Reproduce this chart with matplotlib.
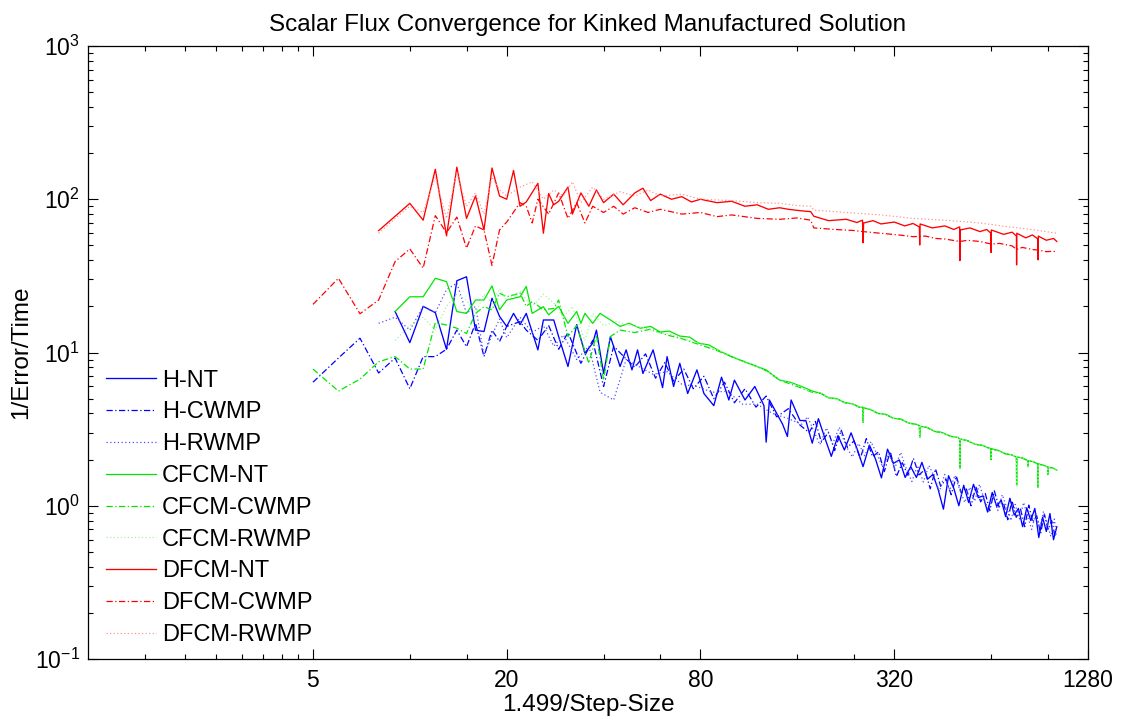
import matplotlib
matplotlib.use("Agg")
import matplotlib.pyplot as plt
from matplotlib.ticker import FixedLocator, NullFormatter

plt.rcParams['font.family'] = ['Liberation Sans', 'DejaVu Sans']
plt.rcParams['mathtext.fontset'] = 'custom'
plt.rcParams['mathtext.rm'] = 'Liberation Sans'

# ---------------- data ----------------
# tails of the H family (the three variants overlap in one dense noisy band)
h_tail_x = [170, 178, 186, 195, 204, 214, 224, 235, 246, 256, 268, 280, 292, 305, 318, 332, 346, 360, 375, 390,
            406, 422, 438, 455, 472, 490, 508, 526, 545, 564, 584, 604, 624, 645, 666, 688, 710, 732, 755, 778,
            802, 826, 850, 875, 900, 925, 950, 975, 1000, 1024]
h_tail_y = [3.60, 2.56, 3.70, 2.75, 2.10, 2.87, 2.31, 2.99, 2.31, 1.80, 2.49, 2.01, 1.52, 2.34, 1.89, 1.99, 1.53, 1.80, 1.53, 1.92,
            1.49, 1.60, 1.28, 0.95, 1.57, 1.30, 1.00, 1.36, 1.05, 1.38, 1.13, 1.16, 0.91, 1.22, 0.99, 1.09, 0.85, 1.12, 0.87, 0.96,
            0.73, 0.97, 0.80, 0.96, 0.62, 0.84, 0.68, 0.89, 0.60, 0.73]
h_tail2_x = [174, 182, 190, 200, 209, 219, 229, 240, 251, 262, 274, 286, 298, 311, 325, 339, 353, 367, 382, 398,
             414, 430, 446, 463, 481, 499, 517, 535, 554, 574, 594, 614, 634, 655, 677, 699, 721, 743, 766, 790,
             814, 838, 862, 887, 912, 937, 962, 987, 1012]
h_tail2_y = [3.00, 3.55, 2.60, 3.02, 2.29, 3.11, 2.40, 2.65, 2.03, 2.74, 2.09, 2.25, 1.67, 2.26, 1.55, 1.91, 1.58, 2.04, 1.59, 1.72,
             1.29, 1.74, 1.34, 1.49, 1.18, 1.56, 1.21, 1.31, 1.00, 1.33, 1.06, 1.20, 0.93, 1.25, 0.98, 1.05, 0.81, 1.08, 0.84, 0.95,
             0.73, 1.01, 0.78, 0.86, 0.66, 0.88, 0.70, 0.80, 0.63]
h_tail3_x = [172, 180, 188, 197, 206, 216, 226, 237, 248, 259, 271, 283, 295, 308, 321, 335, 349, 363, 378, 394,
             410, 426, 442, 459, 476, 494, 512, 530, 549, 569, 589, 609, 629, 650, 671, 693, 715, 737, 760, 784,
             808, 832, 856, 881, 906, 931, 956, 981, 1006, 1020]
h_tail3_y = [3.81, 3.07, 2.50, 3.22, 2.54, 3.25, 2.48, 2.08, 2.55, 2.12, 2.62, 2.16, 1.78, 2.19, 1.75, 2.23, 1.74, 1.44, 1.83, 1.43,
             1.83, 1.55, 1.24, 1.60, 1.26, 1.58, 1.26, 1.05, 1.32, 1.07, 1.38, 1.10, 0.92, 1.18, 0.93, 1.18, 0.98, 0.80, 1.02, 0.82,
             1.05, 0.84, 0.70, 0.90, 0.72, 0.92, 0.76, 0.63, 0.82, 0.64]
# tail of the CFCM family (the three variants overlap)
g_tail_x = [190, 200, 212, 225, 238, 250, 255, 256, 257, 270, 285, 300, 318, 336, 355, 375, 383, 384, 385, 405,
            428, 452, 478, 505, 511, 512, 513, 540, 570, 600, 639, 640, 641, 675, 710, 740, 767, 768, 769, 800,
            831, 832, 833, 865, 895, 896, 897, 930, 959, 960, 961, 990, 1024]
g_tail_y = [5.40, 5.05, 5.00, 4.70, 4.62, 4.38, 4.40, 3.50, 4.35, 4.25, 4.00, 3.96, 3.72, 3.67, 3.46, 3.40, 3.33, 2.80, 3.30, 3.24,
            3.05, 3.00, 2.84, 2.79, 2.72, 1.76, 2.72, 2.66, 2.52, 2.48, 2.35, 2.00, 2.35, 2.29, 2.18, 2.15, 2.08, 1.36, 2.08, 2.05,
            1.97, 1.80, 1.97, 1.94, 1.87, 1.32, 1.87, 1.84, 1.79, 1.60, 1.78, 1.77, 1.71]

hnt_x = [9, 10, 11, 12, 13, 14, 15, 16, 17, 18, 19, 20, 21, 22, 23, 25, 26, 28, 29, 31, 33, 35, 37, 38, 40,
         42, 45, 47, 49, 51, 53, 57, 61, 63, 66, 69, 73, 78, 82, 88, 93, 98, 102, 110, 118, 126, 128, 131, 144,
         149, 153, 163]
hnt_y = [18.5, 11.6, 20.0, 18.2, 10.5, 29.4, 31.2, 14.0, 13.7, 22.6, 17.2, 14.8, 18.0, 15.2, 18.0, 10.4, 16.3,
         16.3, 12.7, 8.1, 15.2, 9.9, 11.5, 14.0, 7.3, 12.7, 8.1, 10.4, 7.7, 10.4, 7.3, 10.4, 5.9, 9.4, 6.0, 8.5,
         5.4, 7.7, 5.4, 4.5, 6.9, 4.9, 6.6, 4.9, 6.0, 4.5, 2.6, 4.9, 3.4, 2.83, 4.9, 3.6]
hcw_x = [5, 6, 7, 8, 9, 10, 11, 12, 13, 14, 15, 16, 17, 18, 19, 20, 22, 23, 25, 27, 29, 31, 34, 37, 40, 43,
         46, 50, 54, 58, 62, 66, 71, 76, 82, 88, 95, 102, 110, 119, 128, 138, 150, 162]
hcw_y = [6.4, 9.2, 12.4, 7.35, 9.2, 5.8, 9.4, 9.4, 10.5, 14.0, 10.9, 15.5, 9.4, 14.0, 11.8, 14.8, 15.9, 14.0,
         12.0, 15.0, 10.5, 13.5, 8.5, 12.0, 6.0, 11.0, 9.5, 8.0, 9.8, 6.8, 8.6, 6.5, 7.8, 5.8, 7.0, 5.0, 6.4, 4.7,
         5.8, 4.4, 5.2, 3.8, 4.3, 3.4]
hrw_x = [8, 9, 10, 11, 12, 13, 14, 15, 16, 17, 18, 19, 20, 22, 24, 26, 28, 30, 33, 36, 39, 43, 47, 52, 57, 63,
         70, 78, 87, 97, 108, 120, 134, 150, 165]
hrw_y = [15.5, 17.0, 14.0, 20.0, 18.2, 25.7, 28.4, 18.0, 20.0, 9.6, 13.0, 16.5, 12.5, 17.0, 13.5, 15.0, 11.0,
         13.0, 9.0, 11.0, 5.5, 4.9, 9.0, 8.0, 7.2, 7.5, 6.2, 6.0, 5.5, 5.6, 4.6, 4.6, 4.0, 3.7, 3.4]

cnt_x = [9, 10, 11, 12, 13, 14, 15, 16, 17, 18, 19, 20, 22, 23, 24, 26, 27, 29, 31, 33, 34, 35, 37, 39, 42, 45,
         48, 52, 56, 60, 64, 69, 74, 79, 85, 92, 100, 108, 118, 128, 141, 152, 165, 178]
cnt_y = [18.5, 23.1, 23.1, 30.5, 29.0, 18.5, 18.0, 22.0, 22.0, 27.2, 19.0, 22.0, 23.1, 27.0, 18.0, 19.9, 17.6,
         20.0, 15.5, 18.5, 15.5, 18.0, 15.5, 18.0, 16.3, 14.8, 15.5, 14.4, 14.8, 13.6, 13.8, 12.8, 12.6, 11.5, 11.2,
         10.2, 9.4, 8.8, 8.2, 7.7, 6.6, 6.4, 6.0, 5.6]
ccw_x = [5, 6, 7, 8, 9, 10, 11, 12, 13, 14, 15, 16, 17, 18, 19, 20, 22, 23, 24, 26, 28, 29, 31, 33, 36, 38, 40,
         42, 45, 50, 56, 63, 70, 79, 90, 101, 115, 128, 141, 160, 178]
ccw_y = [7.8, 5.6, 6.7, 8.7, 9.4, 7.8, 7.8, 15.7, 15.1, 14.4, 13.3, 18.0, 19.9, 19.0, 24.4, 23.1, 24.4, 20.0,
         21.5, 19.0, 19.4, 22.0, 12.7, 15.0, 8.5, 13.0, 6.6, 12.7, 14.0, 13.5, 14.2, 13.0, 12.3, 11.3, 10.3, 9.3,
         8.4, 7.6, 6.6, 6.0, 5.5]
crw_x = [9, 10, 11, 12, 13, 14, 15, 16, 17, 18, 19, 20, 22, 24, 26, 28, 30, 32, 35, 37, 40, 44, 48, 53, 58, 64,
         72, 80, 90, 100, 112, 126, 141, 160, 178]
crw_y = [12.0, 15.0, 17.0, 14.0, 20.0, 24.0, 22.0, 18.0, 24.0, 21.0, 26.0, 22.0, 25.0, 20.0, 24.0, 21.0, 17.0,
         20.0, 12.0, 18.0, 15.0, 16.0, 15.0, 14.6, 13.6, 13.2, 12.2, 11.4, 10.4, 9.5, 8.6, 7.7, 6.7, 6.1, 5.5]

dnt_x = [8, 10, 11, 12, 13, 14, 15, 16, 17, 18, 19, 20, 21, 22, 23, 25, 26, 27, 28, 29, 31, 32, 34, 36, 38, 40,
         43, 46, 50, 53, 56, 60, 65, 70, 75, 80, 90, 100, 110, 120, 130, 141, 150, 165, 176,
         180, 200, 227, 245, 255, 256, 257, 275, 291, 320, 345, 366, 383, 384, 385, 420, 460, 490, 511, 512,
         513, 550, 591, 620, 639, 640, 641, 700, 744, 767, 768, 769, 820, 860, 895, 896, 897, 950, 1000, 1024]
dnt_y = [62.4, 94.0, 73.0, 157, 57.7, 162, 75.0, 105, 63.0, 160, 105, 100, 154, 90.0, 96.0, 127, 60.0, 109,
         92.0, 97.0, 120, 80.0, 110, 90.0, 115, 95.0, 108, 92.0, 110, 118, 98.0, 108, 100, 104, 96.0, 100, 95.0,
         97.0, 90.0, 92.0, 86.0, 88.0, 86.0, 84.0, 83.0,
         77.5, 72.5, 74.0, 70.5, 73.0, 52.0, 70.0, 72.5, 69.0, 71.0, 67.0, 69.5, 66.0, 50.3, 69.0, 65.0, 67.0,
         63.5, 66.0, 39.8, 63.0, 65.0, 61.5, 63.5, 60.0, 44.9, 63.0, 59.0, 61.0, 57.5, 37.3, 60.0, 56.0, 58.5,
         55.0, 40.2, 57.5, 54.0, 55.5, 53.0]
dcw_x = [5, 6, 7, 8, 9, 10, 11, 12, 13, 14, 15, 16, 17, 18, 19, 20, 22, 23, 24, 25, 27, 29, 31, 33, 35, 37, 40,
         43, 46, 50, 55, 60, 70, 80, 90, 100, 120, 141, 160, 176,
         180, 210, 240, 256, 290, 330, 366, 400, 430, 460, 512, 540, 591, 640, 680, 744, 768, 800, 860, 900,
         950, 1000, 1024]
dcw_y = [20.6, 30.5, 17.9, 22.0, 39.2, 47.4, 35.5, 78.2, 60.5, 76.5, 48.0, 67.0, 63.0, 37.0, 63.0, 71.0, 95.0,
         90.0, 70.0, 100, 80.0, 110, 75.0, 95.0, 70.0, 90.0, 82.0, 90.0, 80.0, 88.0, 82.0, 86.0, 80.0, 82.0, 77.0,
         79.0, 75.0, 74.0, 75.5, 73.0,
         65.0, 63.5, 62.5, 61.5, 60.0, 58.5, 57.0, 57.5, 55.5, 55.0, 53.0, 54.0, 53.0, 51.0, 51.5, 49.6, 47.0,
         48.5, 47.0, 46.5, 45.5, 45.8, 45.0]
drw_x = [8, 9, 10, 11, 12, 13, 14, 15, 16, 17, 18, 19, 20, 22, 24, 26, 28, 30, 32, 34, 37, 40, 45, 50, 55, 60,
         70, 80, 100, 120, 141, 160, 176, 180, 227, 291, 366, 460, 591, 744, 880, 1024]
drw_y = [60.0, 75.0, 90.0, 82.0, 140, 75.0, 150, 90.0, 110, 80.0, 140, 115, 105, 120, 130, 100, 115, 105, 130,
         95.0, 120, 100, 112, 105, 115, 105, 108, 100, 98.0, 95.0, 94.0, 91.0, 90.0, 85.0, 82.0, 79.0, 75.0,
         73.0, 70.0, 65.6, 63.0, 60.0]

labels = ['H-NT', 'H-CWMP', 'H-RWMP', 'CFCM-NT', 'CFCM-CWMP', 'CFCM-RWMP', 'DFCM-NT', 'DFCM-CWMP', 'DFCM-RWMP']
x_major = [5, 20, 80, 320, 1280]
x_major_labels = ['5', '20', '80', '320', '1280']
x_minor = [1.5, 2, 2.5, 3, 3.5, 4, 4.5, 10, 15, 40, 60, 160, 240, 640, 960]

# ---------------- assemble series ----------------
series = [
    (hnt_x + h_tail_x, hnt_y + h_tail_y),
    (hcw_x + h_tail2_x, hcw_y + h_tail2_y),
    (hrw_x + h_tail3_x, hrw_y + h_tail3_y),
    (cnt_x + g_tail_x, cnt_y + g_tail_y),
    (ccw_x + g_tail_x, ccw_y + g_tail_y),
    (crw_x + g_tail_x, crw_y + g_tail_y),
    (dnt_x, dnt_y),
    (dcw_x, dcw_y),
    (drw_x, drw_y),
]
blue, green, red = '#0000ff', '#00e600', '#ff0000'
dashdot = (0, (5, 2, 1, 2))
dotted = (0, (1, 2))
styles = [
    dict(color=blue, ls='-', lw=0.95), dict(color=blue, ls=dashdot, lw=0.9), dict(color='#5050ff', ls=dotted, lw=0.9),
    dict(color=green, ls='-', lw=0.9), dict(color=green, ls=dashdot, lw=0.9), dict(color='#a0f0a0', ls=dotted, lw=0.85),
    dict(color=red, ls='-', lw=0.95), dict(color=red, ls=dashdot, lw=0.9), dict(color='#ff8a8a', ls=dotted, lw=0.85),
]

fig = plt.figure(figsize=(11.22, 7.19), dpi=100)
ax = fig.add_axes([88 / 1122, 1 - 659 / 719, 1000 / 1122, 613 / 719])

for (xs, ys), st, lab in zip(series, styles, labels):
    ax.plot(xs, ys, label=lab, **st)

ax.set_xscale('log')
ax.set_yscale('log')
ax.set_xlim(1, 1280)
ax.set_ylim(0.1, 1000)

ax.xaxis.set_major_locator(FixedLocator(x_major))
ax.xaxis.set_minor_locator(FixedLocator(x_minor))
ax.set_xticklabels(x_major_labels)
ax.xaxis.set_minor_formatter(NullFormatter())
yt = [0.1, 1, 10, 100, 1000]
ax.yaxis.set_major_locator(FixedLocator(yt))
ax.set_yticklabels([r'$\mathregular{10^{-1}}$', r'$\mathregular{10^{0}}$', r'$\mathregular{10^{1}}$',
                    r'$\mathregular{10^{2}}$', r'$\mathregular{10^{3}}$'])
ymin = [m * 10.0 ** e for e in range(-1, 3) for m in range(2, 10)]
ax.yaxis.set_minor_locator(FixedLocator(ymin))
ax.yaxis.set_minor_formatter(NullFormatter())

ax.tick_params(which='both', direction='in', top=True, right=True, labelsize=16.5, width=0.8, color='black')
ax.tick_params(which='major', length=7.5)
ax.tick_params(which='minor', length=3.6)
ax.tick_params(axis='x', which='major', pad=7)
ax.tick_params(axis='y', which='major', pad=6)
for s in ax.spines.values():
    s.set_linewidth(0.9)

ax.set_title('Scalar Flux Convergence for Kinked Manufactured Solution', fontsize=17.5, pad=11)
ax.set_xlabel('1.499/Step-Size', fontsize=17.5, labelpad=2)
ax.set_ylabel('1/Error/Time', fontsize=17.5, labelpad=2)

leg = ax.legend(loc='upper left', bbox_to_anchor=(0.018, 0.472), frameon=False, fontsize=17,
                handlelength=2.1, handletextpad=0.28, labelspacing=0.415, borderpad=0, borderaxespad=0)

fig.savefig('out.png', dpi=100)
